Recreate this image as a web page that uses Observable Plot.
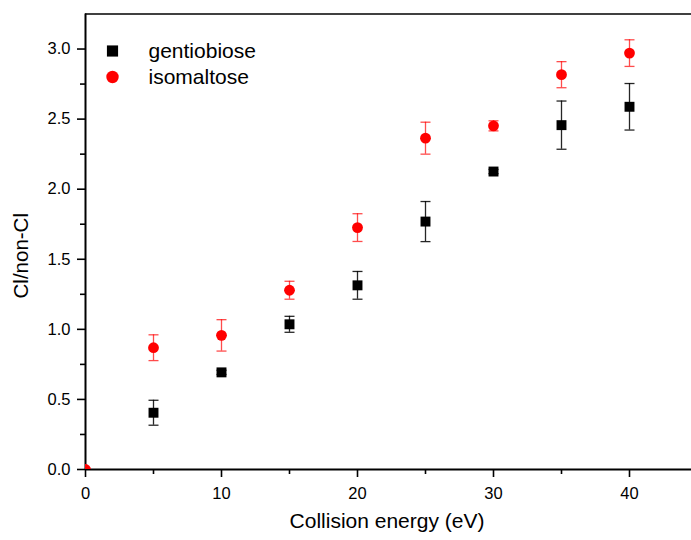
<!DOCTYPE html>
<html>
<head>
<meta charset="utf-8">
<script src="https://cdn.jsdelivr.net/npm/d3@7"></script>
<script src="https://cdn.jsdelivr.net/npm/@observablehq/plot@0.6"></script>
<style>
  html, body { margin: 0; padding: 0; background: #fff; }
  #chart svg { display: block; }
</style>
</head>
<body>
<div id="chart"></div>
<script>
// ---- data ----
const energy = [5, 10, 15, 20, 25, 30, 35, 40];
const gentiobioseMean = [0.405, 0.693, 1.036, 1.314, 1.769, 2.126, 2.457, 2.588];
const gentiobioseErr  = [0.089, 0.015, 0.057, 0.099, 0.143, 0.015, 0.172, 0.166];
const isomaltoseMean  = [0.869, 0.957, 1.279, 1.726, 2.364, 2.452, 2.817, 2.971];
const isomaltoseErr   = [0.092, 0.112, 0.064, 0.099, 0.114, 0.036, 0.093, 0.095];
const originEnergy = [0];
const originValue = [0];
const seriesNames = ["gentiobiose", "isomaltose"];
const xTicks = [0, 10, 20, 30, 40];
const xMinorTicks = [5, 15, 25, 35];
const yTicks = [0, 0.5, 1.0, 1.5, 2.0, 2.5, 3.0];
const yMinorTicks = [0.25, 0.75, 1.25, 1.75, 2.25, 2.75];
const xDomain = [0, 45];
const yDomain = [0, 3.25];
const xLabel = "Collision energy (eV)";
const yLabel = "Cl/non-Cl";

const gentio = energy.map((e, i) => ({x: e, y: gentiobioseMean[i], lo: gentiobioseMean[i] - gentiobioseErr[i], hi: gentiobioseMean[i] + gentiobioseErr[i]}));
const iso = energy.map((e, i) => ({x: e, y: isomaltoseMean[i], lo: isomaltoseMean[i] - isomaltoseErr[i], hi: isomaltoseMean[i] + isomaltoseErr[i]}));
const origin = originEnergy.map((e, i) => ({x: e, y: originValue[i]}));

const capSymbol = {
  draw(ctx) { ctx.moveTo(-5, 0); ctx.lineTo(5, 0); }
};

const font = "'Liberation Sans', Arial, Helvetica, sans-serif";
const RED = "#ff0000";

function errorBars(data, color, opacity) {
  return [
    Plot.ruleX(data, {x: "x", y1: "lo", y2: "hi", stroke: color, strokeOpacity: opacity, strokeWidth: 1.3}),
    Plot.dot(data, {x: "x", y: "lo", symbol: capSymbol, r: 3, stroke: color, strokeOpacity: opacity, strokeWidth: 1.3, fill: "none"}),
    Plot.dot(data, {x: "x", y: "hi", symbol: capSymbol, r: 3, stroke: color, strokeOpacity: opacity, strokeWidth: 1.3, fill: "none"})
  ];
}

const chart = Plot.plot({
  width: 691,
  height: 540,
  marginLeft: 85,
  marginTop: 13.5,
  marginBottom: 71,
  marginRight: 0,
  style: {fontFamily: font, background: "#fff", overflow: "visible"},
  x: {domain: xDomain, range: [85, 697]},
  y: {domain: yDomain, range: [469, 13.5]},
  marks: [
    // top frame line
    Plot.ruleY([yDomain[1]], {stroke: "#000", strokeWidth: 1.6}),
    // axes
    Plot.axisY(yTicks, {tickSize: 8, tickPadding: 7, fontSize: 16.5, tickFormat: d3.format(".1f"), strokeWidth: 1.6, label: null, color: "#000"}),
    Plot.axisY(yMinorTicks, {tickSize: 5, tickFormat: () => "", strokeWidth: 1.6, label: null}),
    Plot.axisX(xTicks, {tickSize: 8, tickPadding: 10, fontSize: 16.5, tickFormat: d3.format("d"), strokeWidth: 1.6, label: null, color: "#000"}),
    Plot.axisX(xMinorTicks, {tickSize: 5, tickFormat: () => "", strokeWidth: 1.6, label: null}),
    Plot.ruleX([xDomain[0]], {stroke: "#000", strokeWidth: 2}),
    Plot.ruleY([yDomain[0]], {stroke: "#000", strokeWidth: 2}),
    // axis titles
    Plot.text([xLabel], {frameAnchor: "bottom", dx: -1.5, dy: 52, textAnchor: "middle", lineAnchor: "middle", fontSize: 21, fill: "#000"}),
    Plot.text([yLabel], {frameAnchor: "left", dx: -64, dy: 14, rotate: -90, textAnchor: "middle", lineAnchor: "middle", fontSize: 20.5, fill: "#000"}),
    // error bars
    ...errorBars(gentio, "#000", 0.85),
    ...errorBars(iso, RED, 0.7),
    // points
    Plot.dot(gentio, {x: "x", y: "y", symbol: "square", r: 5.6, fill: "#000"}),
    Plot.dot(iso, {x: "x", y: "y", symbol: "circle", r: 5.4, fill: RED}),
    Plot.dot(origin, {x: "x", y: "y", symbol: "circle", r: 5.4, fill: RED, clip: true}),
    // legend
    Plot.dot([seriesNames[0]], {frameAnchor: "top-left", dx: 27, dy: 37, symbol: "square", r: 6.3, fill: "#000"}),
    Plot.dot([seriesNames[1]], {frameAnchor: "top-left", dx: 27, dy: 63, symbol: "circle", r: 6.2, fill: RED}),
    Plot.text([seriesNames[0]], {frameAnchor: "top-left", dx: 63, dy: 37.5, text: d => d, textAnchor: "start", lineAnchor: "middle", fontSize: 21, fill: "#000"}),
    Plot.text([seriesNames[1]], {frameAnchor: "top-left", dx: 63, dy: 63.5, text: d => d, textAnchor: "start", lineAnchor: "middle", fontSize: 21, fill: "#000"})
  ]
});

document.getElementById("chart").appendChild(chart);
</script>
</body>
</html>
